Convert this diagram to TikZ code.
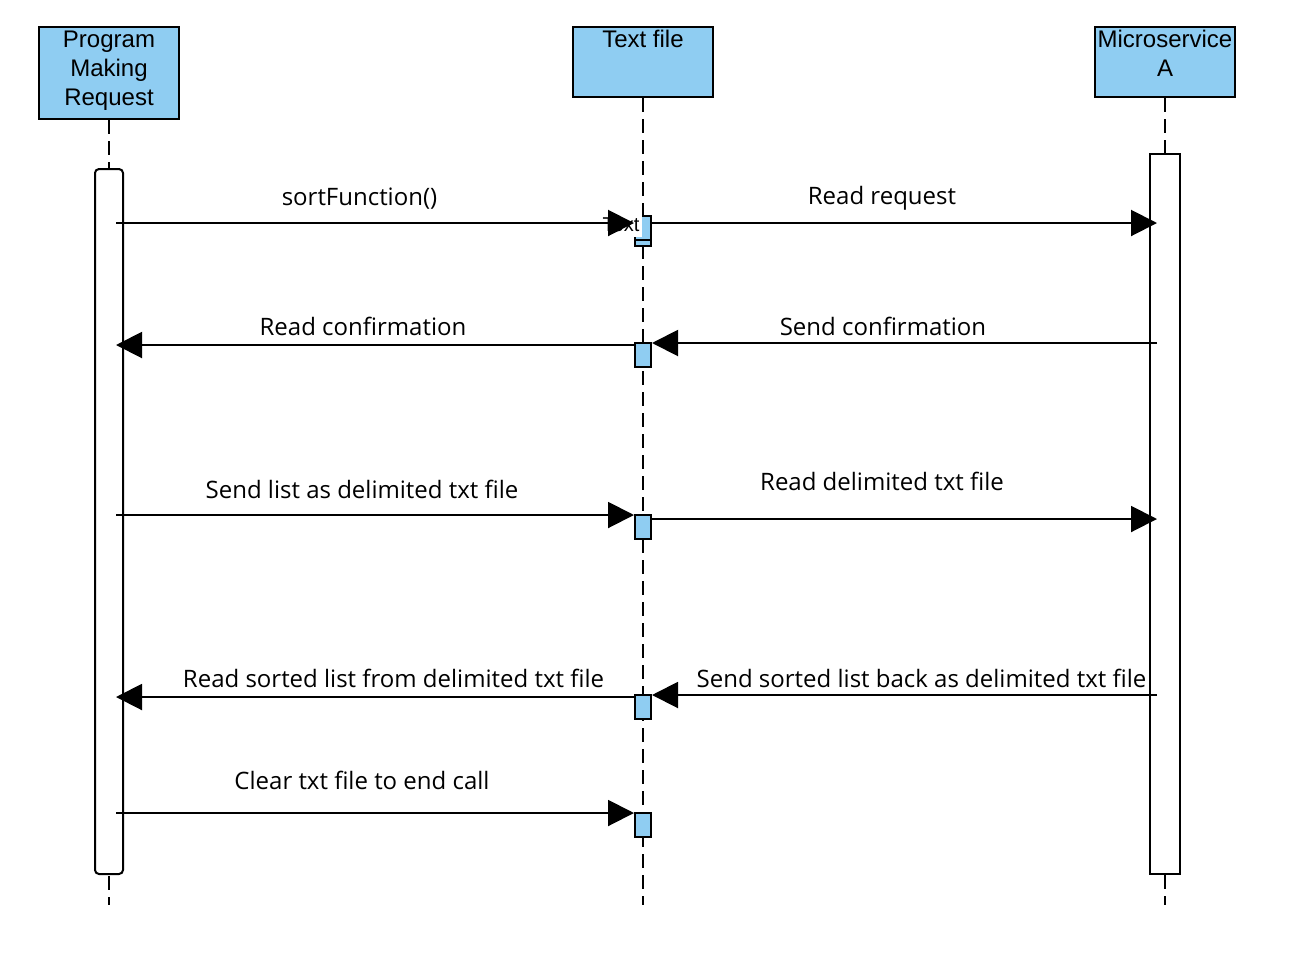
\documentclass[tikz,border=0pt]{standalone}
\usepackage{fontspec}
\usepackage{xcolor}
\usepackage{tikz}
\usetikzlibrary{positioning, arrows.meta}
\newfontfamily\headfont{Liberation Sans}
\newfontfamily\msgfont{Open Sans}
\definecolor{lifeblue}{RGB}{143,205,242}

\begin{document}
\begin{tikzpicture}[x=0.75pt, y=-0.75pt, >={Triangle[length=19.5pt, width=19.5pt]},
    head/.style={draw, line width=1.5pt, fill=lifeblue, minimum width=105pt, inner sep=0pt},
    headtext/.style={font=\headfont\fontsize{18}{21.75}\selectfont, align=center, anchor=base, inner sep=0pt},
    life/.style={line width=1.5pt, dash pattern=on 10.5pt off 5.25pt},
    act/.style={draw, line width=1.5pt, fill=white, inner sep=0pt},
    filebox/.style={draw, line width=1.5pt, fill=lifeblue, minimum width=12pt, minimum height=18pt, inner sep=0pt},
    msg/.style={->, line width=1.5pt},
    lbl/.style={font=\msgfont\fontsize{18}{21.75}\selectfont, anchor=base, inner sep=0pt}]
    \useasboundingbox (0,0) rectangle (1292,968);

    % Heads
    \node[head, minimum height=69pt]   (prog)  at (109,73)  {};
    \node[head, minimum height=52.5pt] (file)  at (643,62)  {};
    \node[head, minimum height=52.5pt] (micro) at (1165,62) {};
    \node[headtext] (progT)  at (109,105) {Program\\Making\\Request};
    \node[headtext] (fileT)  at (643,47)  {Text file};
    \node[headtext] (microT) at (1165,76) {Microservice\\A};

    % Lifelines
    \coordinate (progEnd)  at (109,905);
    \coordinate (fileEnd)  at (643,905);
    \coordinate (microEnd) at (1165,905);
    \draw[life] (prog.south)  -- (progEnd);
    \draw[life] (file.south)  -- (fileEnd);
    \draw[life] (micro.south) -- (microEnd);

    % Activations
    \node[act, rounded corners=3pt, minimum width=21pt, minimum height=528.75pt] (actProg) at (109,521.5) {};
    \node[act, minimum width=22.5pt, minimum height=540pt] (actMicro) at (1165,514) {};
    \node[filebox, minimum height=22.5pt] (fb1) at (643,231) {};
    \draw[line width=1.5pt] (fb1.west |- 0,240) -- (fb1.east |- 0,240);
    \node[filebox] (fb2) at (643,355) {};
    \node[filebox] (fb3) at (643,527) {};
    \node[filebox] (fb4) at (643,707) {};
    \node[filebox] (fb5) at (643,825) {};
    \node[font=\headfont\fontsize{15}{18}\selectfont, fill=white, inner sep=0pt,
          minimum width=30.75pt, minimum height=18pt] (stray) at (621,224.5) {Text};

    % Ends of messages
    \coordinate (p1) at (116,223);  \coordinate (m1) at (1157,223);
    \coordinate (p2) at (116,345);  \coordinate (m2) at (1157,343);
    \coordinate (p3) at (116,515);  \coordinate (m3) at (1157,519);
    \coordinate (p4) at (116,697);  \coordinate (m4) at (1157,695);
    \coordinate (p5) at (116,813);

    % Messages
    \draw[msg] (p1) -- (fb1.west |- p1);
    \draw[msg] (fb1.east |- m1) -- (m1);
    \draw[msg] (fb2.west |- p2) -- (p2);
    \draw[msg] (m2) -- (fb2.east |- m2);
    \draw[msg] (p3) -- (fb3.west |- p3);
    \draw[msg] (fb3.east |- m3) -- (m3);
    \draw[msg] (fb4.west |- p4) -- (p4);
    \draw[msg] (m4) -- (fb4.east |- m4);
    \draw[msg] (p5) -- (fb5.west |- p5);

    % Labels
    \node[lbl] (l1) at (359.5,205) {sortFunction()};
    \node[lbl] (r1) at (882,204)   {Read request};
    \node[lbl] (l2) at (363,335)   {Read confirmation};
    \node[lbl] (r2) at (883,335)   {Send confirmation};
    \node[lbl] (l3) at (362,498)   {Send list as delimited txt file};
    \node[lbl] (r3) at (882,490)   {Read delimited txt file};
    \node[lbl] (l4) at (393.5,687) {Read sorted list from delimited txt file};
    \node[lbl] (r4) at (921.5,687) {Send sorted list back as delimited txt file};
    \node[lbl] (l5) at (362,789)   {Clear txt file to end call};
\end{tikzpicture}
\end{document}
